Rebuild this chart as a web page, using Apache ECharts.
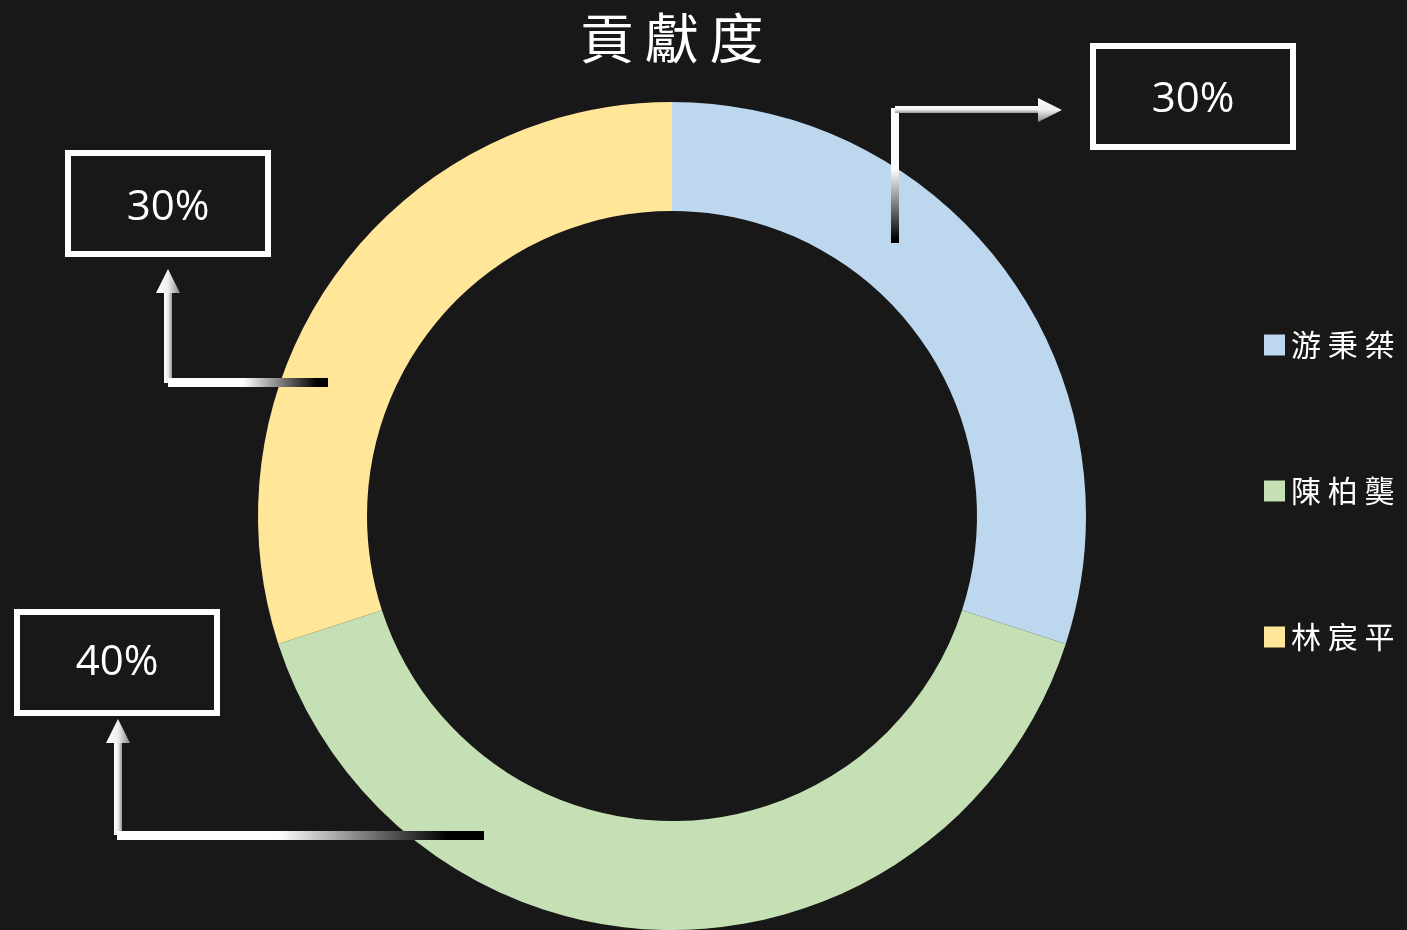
<!DOCTYPE html>
<html>
<head>
<meta charset="utf-8">
<script src="https://cdn.jsdelivr.net/npm/echarts@6/dist/echarts.min.js"></script>
<style>
html,body{margin:0;padding:0;background:#181818;}
#main{width:1407px;height:930px;}
</style>
</head>
<body>
<div id="main"></div>
<script>
const titleText = '貢獻度';
const names = ['游秉桀', '陳柏龑', '林宸平'];
const values = [30, 40, 30];
const colors = ['#BDD7EE', '#C5E0B4', '#FFE699'];

const total = values.reduce((a, b) => a + b, 0);
const pct = values.map(v => Math.round(v / total * 100) + '%');

const chart = echarts.init(document.getElementById('main'));
const G = echarts.graphic;

function grad(x, y, x2, y2, stops) {
  return new G.LinearGradient(x, y, x2, y2, stops.map(s => ({offset: s[0], color: s[1]})));
}
function box(cx, cy, ty, text) {
  return [
    {type: 'rect', z: 100, shape: {x: cx - 100, y: cy - 50, width: 200, height: 101},
     style: {fill: '#181818', stroke: '#ffffff', lineWidth: 6}},
    {type: 'text', z: 101, x: cx, y: ty,
     style: {text: text, fill: '#ffffff', font: '42px "Open Sans", sans-serif', textAlign: 'center', textVerticalAlign: 'middle'}}
  ];
}

const graphics = [];
// slice 0 (blue) annotation: top right
graphics.push(...box(1193, 96, 100, pct[0]));
graphics.push({type: 'rect', z: 100, shape: {x: 891, y: 108, width: 8, height: 135},
  style: {fill: grad(0, 0, 0, 1, [[0, '#ffffff'], [0.45, '#ffffff'], [0.97, '#000000'], [1, '#000000']])}});
graphics.push({type: 'rect', z: 100, shape: {x: 895, y: 106, width: 145, height: 7},
  style: {fill: grad(0, 0, 0, 1, [[0, '#ffffff'], [0.5, '#f0f0f0'], [1, '#9a9a9a']])}});
graphics.push({type: 'polygon', z: 100, shape: {points: [[1038, 98], [1062, 110], [1038, 122]]},
  style: {fill: grad(0, 0, 0, 1, [[0, '#ffffff'], [0.5, '#eeeeee'], [1, '#888888']])}});

// slice 2 (yellow) annotation: top left
graphics.push(...box(168, 203, 208, pct[2]));
graphics.push({type: 'rect', z: 100, shape: {x: 164, y: 292, width: 8, height: 91},
  style: {fill: grad(0, 0, 1, 0, [[0, '#ffffff'], [0.5, '#eeeeee'], [1, '#999999']])}});
graphics.push({type: 'polygon', z: 100, shape: {points: [[168, 269], [180, 293], [156, 293]]},
  style: {fill: grad(0, 0, 1, 0, [[0, '#ffffff'], [0.5, '#eeeeee'], [1, '#888888']])}});
graphics.push({type: 'rect', z: 100, shape: {x: 168, y: 378, width: 160, height: 9},
  style: {fill: grad(0, 0, 1, 0, [[0, '#ffffff'], [0.47, '#ffffff'], [0.93, '#000000'], [1, '#000000']])}});

// slice 1 (green) annotation: bottom left
graphics.push(...box(117, 662, 663, pct[1]));
graphics.push({type: 'rect', z: 100, shape: {x: 114, y: 742, width: 8, height: 93},
  style: {fill: grad(0, 0, 1, 0, [[0, '#ffffff'], [0.5, '#eeeeee'], [1, '#999999']])}});
graphics.push({type: 'polygon', z: 100, shape: {points: [[118, 719], [130, 743], [106, 743]]},
  style: {fill: grad(0, 0, 1, 0, [[0, '#ffffff'], [0.5, '#eeeeee'], [1, '#888888']])}});
graphics.push({type: 'rect', z: 100, shape: {x: 117, y: 831, width: 367, height: 9},
  style: {fill: grad(0, 0, 1, 0, [[0, '#ffffff'], [0.44, '#ffffff'], [0.9, '#000000'], [1, '#000000']])}});

chart.setOption({
  backgroundColor: '#181818',
  animation: false,
  title: {
    text: titleText.split('').join('\u2009'),
    left: 575,
    top: 6,
    textStyle: {color: '#ffffff', fontSize: 54, fontWeight: 'normal', fontFamily: '"Noto Sans CJK TC", sans-serif'}
  },
  legend: {
    orient: 'vertical',
    left: 1259,
    top: 325,
    itemWidth: 21,
    itemHeight: 21,
    itemGap: 116,
    icon: 'rect',
    data: names,
    formatter: n => n.split('').join(' '),
    textStyle: {color: '#ffffff', fontSize: 30, lineHeight: 30, fontFamily: '"Noto Sans CJK TC", sans-serif', padding: [0, 0, 0, 1]}
  },
  series: [{
    type: 'pie',
    center: [672, 516],
    radius: [305, 414],
    startAngle: 90,
    clockwise: true,
    silent: true,
    label: {show: false},
    labelLine: {show: false},
    data: names.map((n, i) => ({name: n, value: values[i], itemStyle: {color: colors[i]}}))
  }],
  graphic: graphics
});
</script>
</body>
</html>
